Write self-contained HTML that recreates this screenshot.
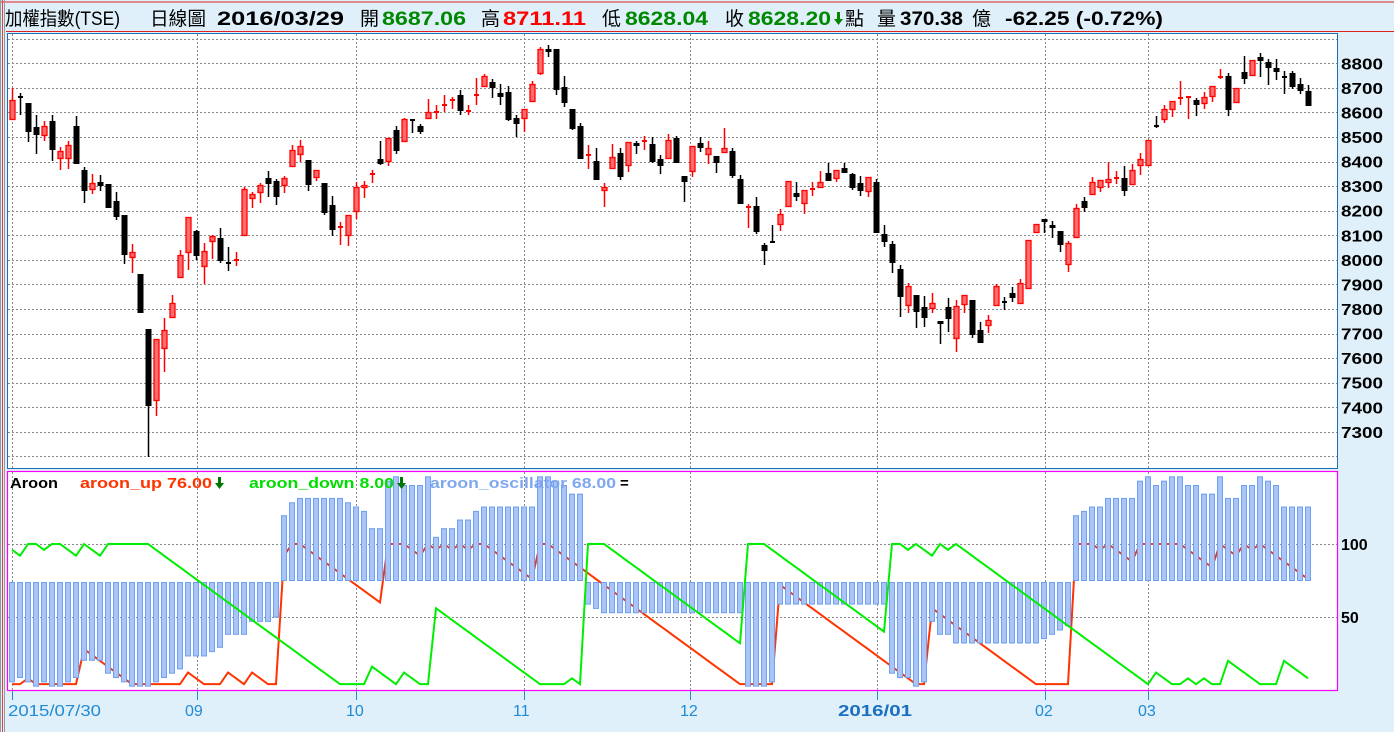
<!DOCTYPE html>
<html><head><meta charset="utf-8"><style>
html,body{margin:0;padding:0;background:#dff0fb;}
svg{display:block}
</style></head><body>
<svg id="s" width="1394" height="732" xmlns="http://www.w3.org/2000/svg" font-family="'Liberation Sans','Noto Sans CJK TC',sans-serif">
<rect x="0" y="0" width="1394" height="732" fill="#dff0fb"/>
<line x1="0" y1="2" x2="1394" y2="2" stroke="#e02020" stroke-width="1"/>
<rect x="0" y="0" width="1" height="732" fill="#999"/>
<rect x="2" y="0" width="1" height="732" fill="#d44"/>
<rect x="4" y="0" width="1" height="732" fill="#999"/>
<line x1="6" y1="31.5" x2="1394" y2="31.5" stroke="#e02020" stroke-width="1"/>
<g font-size="19">
<text x="5" y="25" textLength="115" lengthAdjust="spacingAndGlyphs" fill="#000">加權指數(TSE)</text>
<text x="150" y="25" textLength="56" lengthAdjust="spacingAndGlyphs" fill="#000">日線圖</text>
<text x="217" y="25" textLength="127" lengthAdjust="spacingAndGlyphs" font-weight="bold" fill="#000">2016/03/29</text>
<text x="360" y="25" fill="#000">開</text>
<text x="382" y="25" textLength="84" lengthAdjust="spacingAndGlyphs" font-weight="bold" fill="#008800">8687.06</text>
<text x="481" y="25" fill="#000">高</text>
<text x="503" y="25" textLength="83" lengthAdjust="spacingAndGlyphs" font-weight="bold" fill="#ff0000">8711.11</text>
<text x="602" y="25" fill="#000">低</text>
<text x="625" y="25" textLength="83" lengthAdjust="spacingAndGlyphs" font-weight="bold" fill="#008800">8628.04</text>
<text x="725" y="25" fill="#000">收</text>
<text x="748" y="25" textLength="83" lengthAdjust="spacingAndGlyphs" font-weight="bold" fill="#008800">8628.20</text>
<path d="M837,12 h3 v7 h3 l-4.5,6 l-4.5,-6 h3 z" fill="#008800"/>
<text x="845" y="25" fill="#000">點</text>
<text x="877" y="25" fill="#000">量</text>
<text x="900" y="25" textLength="63" lengthAdjust="spacingAndGlyphs" font-weight="bold" fill="#000">370.38</text>
<text x="972" y="25" fill="#000">億</text>
<text x="1005" y="25" textLength="158" lengthAdjust="spacingAndGlyphs" font-weight="bold" fill="#000">-62.25 (-0.72%)</text>
</g>
<rect x="7.5" y="33.5" width="1330" height="435" fill="#fff" stroke="#1a6fb5" stroke-width="1"/>
<rect x="7.5" y="471.5" width="1330" height="219" fill="#fff" stroke="#ff00ff" stroke-width="1.2"/>
<g id="grid" stroke="#888" stroke-width="1" stroke-dasharray="2,2"></g>
<g id="cand"></g>
<g id="aroon"></g>
<g id="axis" font-weight="bold" font-size="16" fill="#000"></g>
<g font-size="15" font-weight="bold">
<text x="10" y="488" fill="#000" textLength="48" lengthAdjust="spacingAndGlyphs">Aroon</text>
<text x="80" y="488" fill="#ff3300" textLength="132" lengthAdjust="spacingAndGlyphs">aroon_up 76.00</text>
<path d="M218,477 h3 v6 h3 l-4.5,6 l-4.5,-6 h3 z" fill="#007700"/>
<text x="249" y="488" fill="#00dd00" textLength="145" lengthAdjust="spacingAndGlyphs">aroon_down 8.00</text>
<path d="M400,477 h3 v6 h3 l-4.5,6 l-4.5,-6 h3 z" fill="#007700"/>
<text x="430" y="488" fill="#7fa7ef" textLength="186" lengthAdjust="spacingAndGlyphs">aroon_oscillator 68.00</text>
<text x="620" y="488" fill="#000">=</text>
</g>
<g font-size="16" fill="#1f8ad6">
<text x="8" y="716" textLength="93" lengthAdjust="spacingAndGlyphs">2015/07/30</text>
<text x="185" y="716">09</text>
<text x="346" y="716">10</text>
<text x="513" y="716">11</text>
<text x="680" y="716">12</text>
<text x="838" y="716" font-weight="bold" fill="#1a6fc0" textLength="74" lengthAdjust="spacingAndGlyphs">2016/01</text>
<text x="1035" y="716">02</text>
<text x="1138" y="716">03</text>
</g>
<g id="ticks" stroke="#1f8ad6" stroke-width="1"></g>
</svg>
<script>
var D=[[100,120,88,120,'r'],[96,97,93,115,'k'],[103,132,103,142,'k'],[127,135,115,154,'k'],[126,136,121,141,'r'],[121,150,115,161,'k'],[151,159,147,170,'r'],[145,159,141,169,'r'],[126,164,116,164,'k'],[170,191,167,203,'k'],
[183,190,174,194,'r'],[182,186,175,191,'k'],[184,208,184,208,'k'],[201,217,192,220,'k'],[215,255,215,264,'k'],[252,258,244,273,'r'],[274,313,274,313,'k'],[329,406,329,457,'k'],[339,401,339,416,'r'],[330,349,318,372,'r'],
[303,318,295,318,'r'],[255,278,250,278,'r'],[217,253,217,270,'r'],[231,256,230,260,'k'],[251,267,243,284,'r'],[236,242,235,259,'r'],[238,261,228,263,'k'],[262,263,247,271,'k'],[259,261,252,266,'r'],[189,236,187,236,'r'],
[194,199,192,208,'r'],[185,193,183,203,'r'],[178,184,171,197,'k'],[181,197,179,205,'k'],[178,186,176,193,'r'],[150,167,145,167,'r'],[146,155,140,162,'r'],[160,185,160,191,'k'],[170,178,170,181,'r'],[183,213,183,215,'k'],
[205,230,196,236,'k'],[226,228,222,245,'r'],[215,236,215,246,'r'],[187,212,182,219,'r'],[185,188,181,198,'r'],[173,175,170,183,'r'],[159,164,141,165,'k'],[138,162,138,166,'r'],[130,151,126,154,'k'],[119,142,118,142,'r'],
[119,121,119,133,'k'],[126,132,124,134,'k'],[112,119,99,119,'r'],[111,113,105,119,'r'],[104,106,95,112,'r'],[99,101,97,109,'r'],[95,111,90,115,'k'],[110,112,105,115,'r'],[94,96,78,105,'r'],[76,87,74,87,'r'],
[82,88,79,98,'k'],[93,97,84,105,'k'],[92,120,86,121,'k'],[118,124,115,137,'k'],[109,119,109,132,'r'],[84,102,81,102,'r'],[49,74,47,75,'r'],[49,52,45,57,'k'],[49,90,49,95,'k'],[87,103,76,107,'k'],
[109,129,109,130,'k'],[126,159,123,159,'k'],[154,156,145,169,'r'],[161,180,148,180,'k'],[187,191,183,207,'r'],[157,169,144,169,'r'],[153,177,148,180,'k'],[142,166,142,172,'r'],[143,146,141,154,'k'],[140,142,136,150,'r'],
[144,162,137,163,'k'],[159,166,155,174,'k'],[140,159,134,159,'r'],[138,163,136,163,'k'],[176,182,176,202,'k'],[146,172,146,177,'r'],[143,148,137,152,'k'],[148,155,141,164,'r'],[156,163,156,173,'k'],[148,153,128,153,'r'],
[151,176,148,178,'k'],[179,204,175,204,'k'],[206,208,204,228,'r'],[206,232,197,234,'k'],[245,251,243,265,'k'],[241,243,225,243,'k'],[214,225,209,231,'r'],[181,207,181,207,'r'],[193,197,182,201,'k'],[190,204,190,214,'r'],
[188,190,182,196,'r'],[182,188,171,188,'r'],[173,181,163,181,'k'],[170,179,170,182,'r'],[168,173,163,173,'k'],[174,188,173,190,'k'],[183,191,176,196,'k'],[177,192,177,197,'r'],[182,233,179,233,'k'],[234,242,225,247,'k'],
[244,263,241,273,'k'],[269,297,265,317,'k'],[286,306,283,313,'r'],[295,312,295,328,'k'],[307,318,296,327,'k'],[303,309,293,313,'r'],[321,324,321,344,'k'],[307,319,298,332,'k'],[306,339,300,352,'r'],[295,305,295,313,'r'],
[300,335,300,338,'k'],[330,343,322,343,'k'],[320,326,315,333,'r'],[286,306,284,306,'r'],[301,303,297,310,'k'],[293,298,287,302,'k'],[283,304,279,304,'r'],[240,289,240,289,'r'],[224,233,224,233,'r'],[219,222,219,233,'k'],
[225,228,221,238,'k'],[231,245,231,252,'k'],[243,265,241,272,'r'],[208,238,204,238,'r'],[201,208,197,212,'k'],[182,195,177,195,'r'],[180,188,180,192,'r'],[179,183,162,188,'r'],[177,179,171,184,'r'],[178,191,166,196,'k'],
[170,185,164,185,'r'],[159,166,153,175,'r'],[140,166,140,166,'r'],[125,127,116,128,'k'],[109,120,105,123,'r'],[101,110,101,117,'r'],[97,99,81,105,'r'],[96,98,96,119,'r'],[100,105,98,116,'k'],[97,104,92,109,'r'],
[86,97,86,102,'r'],[76,78,69,79,'r'],[76,110,73,116,'k'],[88,103,88,103,'r'],[72,79,56,84,'k'],[60,76,60,76,'r'],[57,61,53,77,'k'],[62,68,59,85,'k'],[68,72,59,80,'k'],[76,77,71,94,'k'],
[73,87,71,89,'k'],[84,91,78,94,'k'],[91,106,85,106,'k']];
var NS='http://www.w3.org/2000/svg';
function el(p,t,a){var e=document.createElementNS(NS,t);for(var k in a)e.setAttribute(k,a[k]);p.appendChild(e);return e;}
var grid=document.getElementById('grid'),cand=document.getElementById('cand'),ar=document.getElementById('aroon'),ax=document.getElementById('axis'),tk=document.getElementById('ticks');
function py(p){return 63.3+(8800-p)*0.2457;}
for(var p=7200;p<=8900;p+=100){var y=Math.round(py(p))+0.5;el(grid,'line',{x1:8,y1:y,x2:1337,y2:y});
 if(p>=7300&&p<=8800){var t=el(ax,'text',{x:1341,y:py(p)+6,textLength:42,lengthAdjust:'spacingAndGlyphs'});t.textContent=p;}}
var vx=[12,197,356,524,690,877,1045,1148];
vx.forEach(function(x){el(grid,'line',{x1:x+0.5,y1:34,x2:x+0.5,y2:468});el(grid,'line',{x1:x+0.5,y1:472,x2:x+0.5,y2:690});el(tk,'line',{x1:x+0.5,y1:691,x2:x+0.5,y2:700});});
[544,617].forEach(function(y){el(grid,'line',{x1:8,y1:y+0.5,x2:1337,y2:y+0.5});});
var t1=el(ax,'text',{x:1341,y:550});t1.textContent='100';var t2=el(ax,'text',{x:1341,y:623});t2.textContent='50';
D.forEach(function(d,i){var x=12+8*i,col=d[4]=='r'?'#ff0000':'#000';
 el(cand,'line',{x1:x+0.5,y1:d[2],x2:x+0.5,y2:d[3],stroke:col,'stroke-width':1.5});
 var h=d[1]-d[0];
 if(h<3){el(cand,'rect',{x:x-2,y:d[0],width:5,height:Math.max(2,h),fill:col});}
 else if(d[4]=='r'){el(cand,'rect',{x:x-2,y:d[0]+0.5,width:5,height:h-1,fill:'#ff6a6a',stroke:'#ff0000','stroke-width':1.3});}
 else el(cand,'rect',{x:x-2.5,y:d[0],width:6,height:h,fill:'#000'});
});
var up=[4,4,8,4,4,4,4,4,4,28,24,20,16,12,8,4,4,4,4,4,4,4,12,8,4],dn=[96,92,100,100,96,100,100,96,92,100,96,92,100,100,100,100,100,100,96,92,88,84,80,76,72];
for(var i=25;i<D.length;i++){var bh=1e9,bi=0,bl=-1,li=0;for(var j=i-24;j<=i;j++){if(D[j][2]<=bh){bh=D[j][2];bi=j;}if(D[j][3]>=bl){bl=D[j][3];li=j;}}
 up[i]=100*(25-(i-bi))/25;dn[i]=100*(25-(i-li))/25;}
function ly(v){return 690-1.46*v;}
var pu='',pd='';for(var i=0;i<D.length;i++){var x=12+8*i;pu+=(i?'L':'M')+x+','+ly(Math.max(up[i],4));pd+=(i?'L':'M')+x+','+ly(Math.max(dn[i],4));}
el(ar,'path',{d:pu,fill:'none',stroke:'#ff3300','stroke-width':2});
for(var i=0;i<D.length;i++){var x=12+8*i,o=up[i]-dn[i],k=1.08;
 if(o>=0){el(ar,'rect',{x:x-2.5,y:580.5-o*k,width:5,height:Math.max(o*k,1),fill:'#a8c4f8',stroke:'#6f9ff0','stroke-width':1});}
 else{el(ar,'rect',{x:x-2.5,y:582.5,width:5,height:-o*k,fill:'#a8c4f8',stroke:'#6f9ff0','stroke-width':1});}}
el(ar,'path',{d:pd,fill:'none',stroke:'#00ee00','stroke-width':2});
</script>
</body></html>
